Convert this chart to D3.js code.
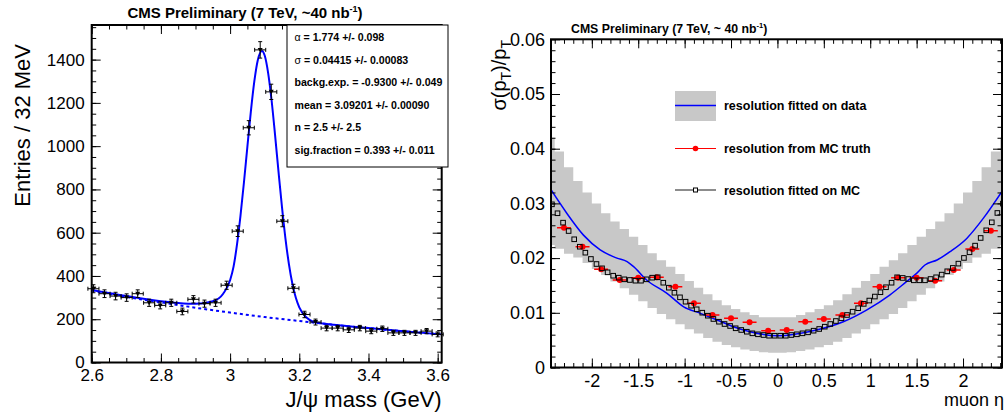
<!DOCTYPE html>
<html>
<head>
<meta charset="utf-8">
<script src="https://cdn.jsdelivr.net/npm/d3@7"></script>
<style>
  body { margin: 0; background: #fff; }
  svg { display: block; font-family: "Liberation Sans", Arial, Helvetica, sans-serif; }
</style>
</head>
<body>
<svg id="chart" width="1008" height="420"></svg>
<script>
// ---------- left pad : J/psi mass fit ----------
const massBins = [2.605, 2.637, 2.669, 2.701, 2.733, 2.766, 2.798, 2.830, 2.862, 2.894, 2.926,
  2.958, 2.990, 3.022, 3.054, 3.087, 3.119, 3.151, 3.183, 3.215, 3.247, 3.279, 3.311, 3.343,
  3.375, 3.408, 3.440, 3.472, 3.504, 3.536, 3.568, 3.600];
const massCounts = [341, 318, 307, 300, 318, 276, 264, 276, 236, 292, 272, 276, 357, 607, 1085,
  1445, 1251, 653, 343, 222, 187, 159, 159, 151, 159, 145, 156, 137, 137, 137, 145, 130];
const massErrors = [18.5, 17.8, 17.5, 17.3, 17.8, 16.6, 16.2, 16.6, 15.4, 17.1, 16.5, 16.6, 18.9,
  24.6, 32.9, 38.0, 35.4, 25.6, 18.5, 14.9, 13.7, 12.6, 12.6, 12.3, 12.6, 12.0, 12.5, 11.7, 11.7,
  11.7, 12.0, 11.4];
const massBinHalf = 0.016;

// fitted total pdf
const fitMass = [2.600, 2.700, 2.800, 2.850, 2.900, 2.950, 2.980, 3.000, 3.010, 3.020, 3.030,
  3.040, 3.050, 3.060, 3.070, 3.080, 3.092, 3.100, 3.110, 3.120, 3.130, 3.140, 3.150, 3.160,
  3.170, 3.180, 3.190, 3.200, 3.220, 3.240, 3.270, 3.300, 3.400, 3.500, 3.612];
const fitTotal = [335, 307, 283, 275, 271, 283, 318, 380, 443, 546, 678, 832, 998, 1160, 1299,
  1397, 1440, 1419, 1338, 1211, 1051, 881, 718, 573, 455, 364, 299, 255, 209, 189, 180, 174,
  159, 145, 130];
// background (dashed)
const bkgMass = [2.60, 2.70, 2.80, 2.90, 3.00, 3.10, 3.20, 3.30, 3.40, 3.50, 3.612];
const bkgValues = [333, 303, 278, 253, 231, 210, 192, 174, 159, 145, 130];

const massTicks = [2.6, 2.8, 3, 3.2, 3.4, 3.6];
const entriesTicks = [0, 200, 400, 600, 800, 1000, 1200, 1400];

const fitParams = [
  ["α", " =  1.774 +/- 0.098"],
  ["σ", " =  0.04415 +/- 0.00083"],
  ["", "backg.exp. = -0.9300 +/- 0.049"],
  ["", "mean =  3.09201 +/- 0.00090"],
  ["", "n =  2.5 +/- 2.5"],
  ["", "sig.fraction =  0.393 +/- 0.011"]
];

// ---------- right pad : muon pT resolution vs eta ----------
const bandEta = [-2.45, -2.35, -2.25, -2.15, -2.05, -1.95, -1.85, -1.75, -1.65, -1.55, -1.45,
  -1.35, -1.25, -1.15, -1.05, -0.95, -0.85, -0.75, -0.65, -0.55, -0.45, -0.35, -0.25, -0.15,
  -0.05, 0.05, 0.15, 0.25, 0.35, 0.45, 0.55, 0.65, 0.75, 0.85, 0.95, 1.05, 1.15, 1.25, 1.35,
  1.45, 1.55, 1.65, 1.75, 1.85, 1.95, 2.05, 2.15, 2.25, 2.35, 2.45];
const bandHi = [0.0420, 0.0395, 0.0366, 0.0341, 0.0320, 0.0300, 0.0282, 0.0267, 0.0253, 0.0239,
  0.0224, 0.0209, 0.0196, 0.0184, 0.0171, 0.0158, 0.0146, 0.0134, 0.0123, 0.0114, 0.0107,
  0.0101, 0.0096, 0.0092, 0.0092, 0.0092, 0.0092, 0.0096, 0.0101, 0.0107, 0.0114, 0.0123,
  0.0134, 0.0146, 0.0158, 0.0171, 0.0184, 0.0196, 0.0209, 0.0224, 0.0239, 0.0253, 0.0267,
  0.0282, 0.0300, 0.0320, 0.0341, 0.0366, 0.0395, 0.0420];
const bandLo = [0.0224, 0.0217, 0.0208, 0.0201, 0.0191, 0.0180, 0.0169, 0.0157, 0.0145, 0.0133,
  0.0121, 0.0109, 0.0098, 0.0088, 0.0079, 0.0070, 0.0062, 0.0054, 0.0047, 0.0041, 0.0037,
  0.0033, 0.0030, 0.0028, 0.0027, 0.0027, 0.0028, 0.0030, 0.0033, 0.0037, 0.0041, 0.0047,
  0.0054, 0.0062, 0.0070, 0.0079, 0.0088, 0.0098, 0.0109, 0.0121, 0.0133, 0.0145, 0.0157,
  0.0169, 0.0180, 0.0191, 0.0201, 0.0208, 0.0217, 0.0224];

const fitEta = [-2.44, -2.27, -2.09, -1.91, -1.73, -1.62, -1.55, -1.41, -1.19, -1.01, -0.83,
  -0.65, -0.475, -0.295, 0, 0.42, 0.71, 0.96, 1.21, 1.39, 1.50, 1.59, 1.72, 1.86, 2.04, 2.22, 2.42];
const fitRes = [0.0325, 0.0282, 0.0242, 0.0215, 0.0200, 0.01934, 0.01843, 0.0160, 0.01356,
  0.0111, 0.0099, 0.00868, 0.00746, 0.00654, 0.0058, 0.00686, 0.00837, 0.0105, 0.01325,
  0.01569, 0.0172, 0.01874, 0.01965, 0.02117, 0.0236, 0.0273, 0.0322];

const truthEta = [-2.3, -2.1, -1.9, -1.7, -1.5, -1.3, -1.1, -0.9, -0.7, -0.5, -0.3, -0.1,
  0.1, 0.3, 0.5, 0.7, 0.9, 1.1, 1.3, 1.5, 1.7, 1.9, 2.1, 2.3];
const truthRes = [0.02556, 0.02208, 0.01795, 0.0160, 0.01642, 0.0165, 0.01477, 0.01174, 0.0096,
  0.0090, 0.00826, 0.00673, 0.00686, 0.00837, 0.00887, 0.0096, 0.01174, 0.01477, 0.01642,
  0.01642, 0.01587, 0.01782, 0.02166, 0.0250];
const truthHalf = 0.075;

const mcEta = [-2.43, -2.37, -2.31, -2.25, -2.19, -2.13, -2.07, -2.01, -1.95, -1.89, -1.83,
  -1.77, -1.71, -1.65, -1.59, -1.53, -1.47, -1.41, -1.35, -1.29, -1.23, -1.17, -1.11, -1.05,
  -0.99, -0.93, -0.87, -0.81, -0.75, -0.69, -0.63, -0.57, -0.51, -0.45, -0.39, -0.33, -0.27,
  -0.21, -0.15, -0.09, -0.03, 0.03, 0.09, 0.15, 0.21, 0.27, 0.33, 0.39, 0.45, 0.51, 0.57, 0.63,
  0.69, 0.75, 0.81, 0.87, 0.93, 0.99, 1.05, 1.11, 1.17, 1.23, 1.29, 1.35, 1.41, 1.47, 1.53,
  1.59, 1.65, 1.71, 1.77, 1.83, 1.89, 1.95, 2.01, 2.07, 2.13, 2.19, 2.25, 2.31, 2.37, 2.43];
const mcRes = [0.02983, 0.0282, 0.02648, 0.02495, 0.02344, 0.02208, 0.02099, 0.01984, 0.01892,
  0.01813, 0.0174, 0.01678, 0.01642, 0.01612, 0.0160, 0.01587, 0.01587, 0.01612, 0.01642,
  0.01649, 0.0155, 0.01459, 0.01367, 0.01283, 0.01203, 0.0113, 0.01064, 0.01002, 0.00947,
  0.00887, 0.00837, 0.00795, 0.00759, 0.00717, 0.00686, 0.00654, 0.00625, 0.00607, 0.00594,
  0.00581, 0.00581, 0.00581, 0.00581, 0.00594, 0.00607, 0.00625, 0.00643, 0.00673, 0.00704,
  0.00746, 0.00795, 0.0085, 0.009, 0.0096, 0.0102, 0.01084, 0.01163, 0.01224, 0.01297,
  0.01376, 0.01467, 0.0155, 0.01649, 0.01637, 0.01618, 0.01594, 0.01594, 0.01594, 0.01618,
  0.01649, 0.01698, 0.01759, 0.0182, 0.01899, 0.02003, 0.02106, 0.02228, 0.02368, 0.02508,
  0.02654, 0.02825, 0.02996];

const etaTicks = [-2, -1.5, -1, -0.5, 0, 0.5, 1, 1.5, 2];
const resTicks = [0, 0.01, 0.02, 0.03, 0.04, 0.05, 0.06];

const legendItems = ["resolution fitted on data", "resolution from MC truth", "resolution fitted on MC"];

const BLUE = "#0000ff", RED = "#ff0000", BAND = "#c8c8c8";

let svg = d3.select("#chart");

/**
 * ROOT style frame: ticks pointing inwards on all four sides, thick border.
 */
function drawFrame(g, x, y, o) {
  let w = x.range()[1] - x.range()[0];
  let h = y.range()[0] - y.range()[1];
  let sides = [
    [d3.axisBottom(x), `translate(0,${h})`, o.xMajor, o.xMinor],
    [d3.axisTop(x), `translate(0,0)`, o.xMajor, o.xMinor],
    [d3.axisLeft(y), `translate(0,0)`, o.yMajor, o.yMinor],
    [d3.axisRight(y), `translate(${w},0)`, o.yMajor, o.yMinor]
  ];
  sides.forEach(s => {
    let minor = s[0].tickValues(s[3]).tickSize(-o.minorLen).tickFormat("");
    g.append("g").attr("transform", s[1]).call(minor)
      .call(a => a.select(".domain").remove());
    let major = s[0].tickValues(s[2]).tickSize(-o.majorLen).tickFormat("");
    g.append("g").attr("transform", s[1]).call(major)
      .call(a => a.select(".domain").remove());
  });
  g.selectAll(".tick line").attr("stroke", "#000").attr("stroke-width", 1);

  // tick labels
  g.append("g")
    .attr("transform", `translate(0,${h})`)
    .call(d3.axisBottom(x).tickValues(o.xMajor).tickSize(0).tickPadding(o.xPad).tickFormat(d => String(d)))
    .call(a => a.select(".domain").remove())
    .selectAll("text").attr("font-size", o.labelSize).attr("fill", "#000")
    .attr("font-family", "Liberation Sans, Arial, sans-serif");
  g.append("g")
    .call(d3.axisLeft(y).tickValues(o.yMajor).tickSize(0).tickPadding(o.yPad).tickFormat(d => String(d)))
    .call(a => a.select(".domain").remove())
    .selectAll("text").attr("font-size", o.labelSize).attr("fill", "#000")
    .attr("font-family", "Liberation Sans, Arial, sans-serif");

  g.append("rect")
    .attr("width", w).attr("height", h)
    .attr("fill", "none").attr("stroke", "#000").attr("stroke-width", 2);
}

function drawMassPad() {
  let left = 91.7, top = 25, right = 441.7, bottom = 362.5;
  let x = d3.scaleLinear().domain([2.6, 3.6116]).range([0, right - left]);
  let y = d3.scaleLinear().domain([0, 1560]).range([bottom - top, 0]);
  let g = svg.append("g").attr("transform", `translate(${left},${top})`);

  g.append("clipPath").attr("id", "clipMass")
    .append("rect").attr("width", right - left).attr("height", bottom - top);

  let plot = g.append("g").attr("clip-path", "url(#clipMass)");

  // background component, dashed
  plot.append("path")
    .datum(d3.zip(bkgMass, bkgValues))
    .attr("d", d3.line().x(d => x(d[0])).y(d => y(d[1])).curve(d3.curveMonotoneX))
    .attr("fill", "none").attr("stroke", BLUE).attr("stroke-width", 2)
    .attr("stroke-dasharray", "3,3");

  // total fit
  plot.append("path")
    .datum(d3.zip(fitMass, fitTotal))
    .attr("d", d3.line().x(d => x(d[0])).y(d => y(d[1])).curve(d3.curveMonotoneX))
    .attr("fill", "none").attr("stroke", BLUE).attr("stroke-width", 2);

  // data points with error bars
  let pts = g.append("g").selectAll("g")
    .data(massBins.map((m, i) => ({m: m, n: massCounts[i], e: massErrors[i]})))
    .enter().append("g")
    .attr("stroke", "#000").attr("stroke-width", 1);
  pts.append("line")
    .attr("x1", d => x(d.m - massBinHalf)).attr("x2", d => x(d.m + massBinHalf))
    .attr("y1", d => y(d.n)).attr("y2", d => y(d.n));
  pts.append("line")
    .attr("x1", d => x(d.m)).attr("x2", d => x(d.m))
    .attr("y1", d => y(d.n - d.e)).attr("y2", d => y(d.n + d.e));
  // caps
  [-1, 1].forEach(s => {
    pts.append("line")
      .attr("x1", d => x(d.m + s * massBinHalf)).attr("x2", d => x(d.m + s * massBinHalf))
      .attr("y1", d => y(d.n) - 2).attr("y2", d => y(d.n) + 2);
    pts.append("line")
      .attr("x1", d => x(d.m) - 2).attr("x2", d => x(d.m) + 2)
      .attr("y1", d => y(d.n + s * d.e)).attr("y2", d => y(d.n + s * d.e));
  });
  pts.append("path")
    .attr("d", d => {
      let cx = x(d.m), cy = y(d.n);
      return `M${cx - 2.5},${cy - 2}L${cx + 2.5},${cy - 2}L${cx},${cy + 2.5}Z`;
    })
    .attr("fill", "#000").attr("stroke", "none");

  drawFrame(g, x, y, {
    xMajor: massTicks, xMinor: d3.range(2.6, 3.62, 0.05),
    yMajor: entriesTicks, yMinor: d3.range(0, 1560, 50),
    majorLen: 9, minorLen: 4.5, labelSize: 17, xPad: 6, yPad: 7
  });

  // parameter box
  let box = svg.append("g").attr("transform", "translate(287,25)");
  box.append("rect")
    .attr("width", 161).attr("height", 142)
    .attr("fill", "#fff").attr("stroke", "#000").attr("stroke-width", 1);
  let rows = box.selectAll("text")
    .data(fitParams).enter().append("text")
    .attr("x", 7.5).attr("y", (d, i) => 16 + i * 22.5)
    .attr("font-size", 10.6).attr("font-weight", "bold");
  rows.append("tspan").attr("font-weight", "normal").text(d => d[0]);
  rows.append("tspan").text(d => d[1]);

  // titles
  let title = svg.append("text")
    .attr("x", 245).attr("y", 18)
    .attr("text-anchor", "middle").attr("font-size", 15).attr("font-weight", "bold")
    .text("CMS Preliminary (7 TeV, ~40 nb");
  title.append("tspan").attr("font-size", 9).attr("dy", -6).text("-1");
  title.append("tspan").attr("dy", 6).text(")");

  svg.append("text")
    .attr("transform", "translate(30,44) rotate(-90)")
    .attr("text-anchor", "end").attr("font-size", 22)
    .text("Entries / 32 MeV");
  svg.append("text")
    .attr("x", right).attr("y", 407)
    .attr("text-anchor", "end").attr("font-size", 22)
    .text("J/ψ mass (GeV)");
}

function drawResolutionPad() {
  let left = 551, top = 39.3, right = 1002, bottom = 367.5;
  let x = d3.scaleLinear().domain([-2.44, 2.42]).range([0, right - left]);
  let y = d3.scaleLinear().domain([0, 0.06]).range([bottom - top, 0]);
  let g = svg.append("g").attr("transform", `translate(${left},${top})`);

  g.append("clipPath").attr("id", "clipRes")
    .append("rect").attr("width", right - left).attr("height", bottom - top);
  let plot = g.append("g").attr("clip-path", "url(#clipRes)");

  // error band of the data fit, stepwise
  plot.append("path")
    .datum(d3.range(bandEta.length))
    .attr("d", d3.area()
      .x(i => x(bandEta[i]))
      .y0(i => y(bandLo[i]))
      .y1(i => y(bandHi[i]))
      .curve(d3.curveStep))
    .attr("fill", BAND);

  plot.append("path")
    .datum(d3.zip(fitEta, fitRes))
    .attr("d", d3.line().x(d => x(d[0])).y(d => y(d[1])).curve(d3.curveMonotoneX))
    .attr("fill", "none").attr("stroke", BLUE).attr("stroke-width", 1.5);

  // MC truth
  let truth = plot.append("g").selectAll("g")
    .data(d3.zip(truthEta, truthRes)).enter().append("g");
  truth.append("line")
    .attr("x1", d => x(d[0] - truthHalf)).attr("x2", d => x(d[0] + truthHalf))
    .attr("y1", d => y(d[1])).attr("y2", d => y(d[1]))
    .attr("stroke", RED).attr("stroke-width", 1.5);
  truth.append("circle")
    .attr("cx", d => x(d[0])).attr("cy", d => y(d[1])).attr("r", 3)
    .attr("fill", RED);

  // fitted on MC, open squares
  plot.append("g").selectAll("rect")
    .data(d3.zip(mcEta, mcRes)).enter().append("rect")
    .attr("x", d => x(d[0]) - 2.3).attr("y", d => y(d[1]) - 2.3)
    .attr("width", 4.6).attr("height", 4.6)
    .attr("fill", "none").attr("stroke", "#000").attr("stroke-width", 1);

  drawFrame(g, x, y, {
    xMajor: etaTicks, xMinor: d3.range(-2.4, 2.45, 0.1).map(v => Math.round(v * 10) / 10),
    yMajor: resTicks, yMinor: d3.range(0, 0.0601, 0.002),
    majorLen: 9, minorLen: 4.5, labelSize: 18, xPad: 7, yPad: 6
  });

  // legend
  let leg = svg.append("g").attr("transform", "translate(675,0)");
  leg.append("rect").attr("x", 0).attr("y", 91).attr("width", 41).attr("height", 30).attr("fill", BAND);
  leg.append("line").attr("x1", 0).attr("x2", 41).attr("y1", 105.5).attr("y2", 105.5)
    .attr("stroke", BLUE).attr("stroke-width", 1.5);
  leg.append("line").attr("x1", 0).attr("x2", 41).attr("y1", 148.5).attr("y2", 148.5)
    .attr("stroke", RED).attr("stroke-width", 1.2);
  leg.append("circle").attr("cx", 20.5).attr("cy", 148.5).attr("r", 2.8).attr("fill", RED);
  leg.append("line").attr("x1", 0).attr("x2", 41).attr("y1", 190).attr("y2", 190)
    .attr("stroke", "#666").attr("stroke-width", 1.5);
  leg.append("rect").attr("x", 18.5).attr("y", 188).attr("width", 4).attr("height", 4)
    .attr("fill", "#fff").attr("stroke", "#000").attr("stroke-width", 1);
  leg.selectAll("text.entry")
    .data(legendItems).enter().append("text")
    .attr("class", "entry")
    .attr("x", 49).attr("y", (d, i) => [110, 153, 194.5][i])
    .attr("font-size", 12.5).attr("font-weight", "bold")
    .text(d => d);

  let title = svg.append("text")
    .attr("x", 571).attr("y", 33)
    .attr("font-size", 12.3).attr("font-weight", "bold")
    .text("CMS Preliminary (7 TeV, ~ 40 nb");
  title.append("tspan").attr("font-size", 7.5).attr("dy", -5).text("-1");
  title.append("tspan").attr("dy", 5).text(")");

  // sigma(pT)/pT, kept left of the tick labels
  let yt = svg.append("text")
    .attr("transform", "translate(506,40) rotate(-90)")
    .attr("text-anchor", "end").attr("font-size", 20);
  yt.append("tspan").text("σ(p");
  yt.append("tspan").attr("font-size", 14).attr("dy", 5).text("T");
  yt.append("tspan").attr("dy", -5).text(")/p");
  yt.append("tspan").attr("font-size", 14).attr("dy", 5).text("T");

  svg.append("text")
    .attr("x", 1004).attr("y", 406)
    .attr("text-anchor", "end").attr("font-size", 18)
    .text("muon η");
}

drawMassPad();
drawResolutionPad();
</script>
</body>
</html>
